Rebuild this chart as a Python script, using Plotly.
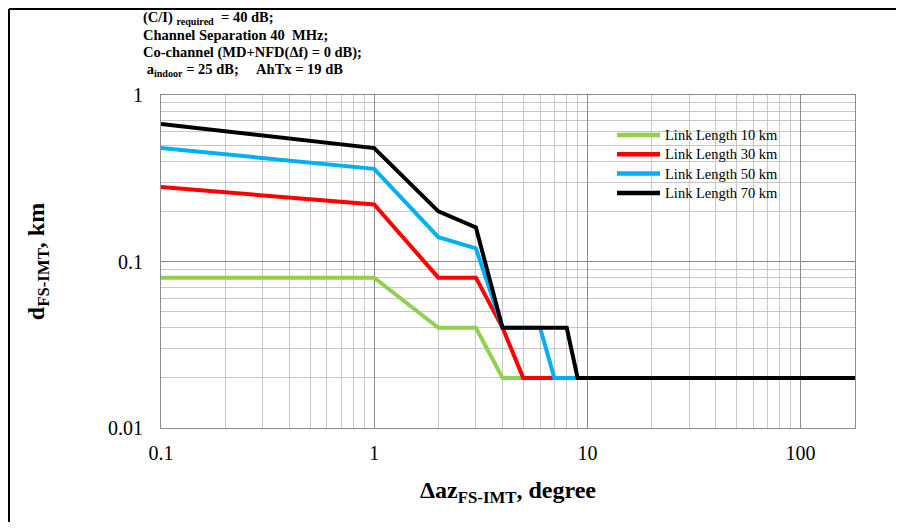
import plotly.graph_objects as go
import math

# Data
az = [0.1, 1, 2, 3, 4, 5, 6, 7, 8, 9, 180]
series_names = ["Link Length 10 km", "Link Length 30 km", "Link Length 50 km", "Link Length 70 km"]
d_10km = [0.08, 0.08, 0.04, 0.04, 0.02, 0.02, 0.02, 0.02, 0.02, 0.02, 0.02]
d_30km = [0.28, 0.22, 0.08, 0.08, 0.04, 0.02, 0.02, 0.02, 0.02, 0.02, 0.02]
d_50km = [0.48, 0.36, 0.14, 0.12, 0.04, 0.04, 0.04, 0.02, 0.02, 0.02, 0.02]
d_70km = [0.67, 0.48, 0.20, 0.16, 0.04, 0.04, 0.04, 0.04, 0.04, 0.02, 0.02]
colors = ["#92D050", "#FF0000", "#00B0F0", "#000000"]

x_tickvals = [0.1, 1, 10, 100]
x_ticktext = ["0.1", "1", "10", "100"]
y_tickvals = [0.01, 0.1, 1]
y_ticktext = ["0.01", "0.1", "1"]

note_lines = [
    "<b>(C/I) <sub>required</sub>  = 40 dB;</b>",
    "<b>Channel Separation 40  MHz;</b>",
    "<b>Co-channel (MD+NFD(Δf) = 0 dB);</b>",
    "<b>\u00a0a<sub>indoor</sub> = 25 dB;\u00a0\u00a0\u00a0\u00a0 AhTx = 19 dB</b>",
]

# figure size (page body has an 8px margin)
W, H = 888, 514
OFF = 8
L, R, T, B = 153, 41, 87, 94
pw, ph = W - L - R, H - T - B

def px(xs):
    """screen x -> paper x"""
    return (xs - OFF - L) / pw

def py(ys):
    """screen y -> paper y"""
    return (H - B - (ys - OFF)) / ph

FONT = "Liberation Serif, Times New Roman, serif"

fig = go.Figure()
series = [d_10km, d_30km, d_50km, d_70km]
for name, vals, c in zip(series_names, series, colors):
    fig.add_trace(go.Scatter(x=az, y=vals, mode="lines", name=name,
                             line=dict(color=c, width=4), showlegend=False))

fig.update_layout(
    width=W, height=H,
    margin=dict(l=L, r=R, t=T, b=B, pad=0),
    paper_bgcolor="white", plot_bgcolor="white",
    font=dict(family=FONT, color="black"),
    showlegend=False,
)

fig.update_xaxes(type="log", range=[-1, math.log10(180)],
                 tickvals=x_tickvals, ticktext=x_ticktext,
                 tickfont=dict(size=20, family=FONT),
                 showgrid=True, gridcolor="#8c8c8c", gridwidth=1,
                 minor=dict(dtick="D1", showgrid=True, gridcolor="#c6c6c6", gridwidth=1, ticks=""),
                 showline=True, linecolor="#8c8c8c", linewidth=1, mirror=True,
                 ticks="outside", ticklen=0, ticklabelstandoff=7,
                 zeroline=False,
                 title=dict(text="<b>Δaz<sub>FS-IMT</sub>, degree</b>",
                            font=dict(size=24, family=FONT), standoff=18))
fig.update_yaxes(type="log", range=[-2, 0],
                 tickvals=y_tickvals, ticktext=y_ticktext,
                 tickfont=dict(size=20, family=FONT),
                 showgrid=True, gridcolor="#8c8c8c", gridwidth=1,
                 minor=dict(dtick="D1", showgrid=True, gridcolor="#c6c6c6", gridwidth=1, ticks=""),
                 showline=True, linecolor="#8c8c8c", linewidth=1, mirror=True,
                 ticks="outside", ticklen=0, ticklabelstandoff=13,
                 zeroline=False,
                 title=dict(text="<b>d<sub>FS-IMT</sub>, km</b>",
                            font=dict(size=24, family=FONT), standoff=56))

# legend box (white, covering the grid)
fig.add_shape(type="rect", xref="paper", yref="paper",
              x0=px(547), x1=px(852), y0=py(205), y1=py(127),
              fillcolor="white", line=dict(width=0), layer="between")

# legend entries
leg_y = [135, 154.3, 173.6, 193]
for name, c, yy in zip(series_names, colors, leg_y):
    fig.add_shape(type="line", xref="paper", yref="paper",
                  x0=px(617), x1=px(660), y0=py(yy), y1=py(yy),
                  line=dict(color=c, width=4.5), layer="above")
    fig.add_annotation(text=name, xref="paper", yref="paper", x=px(663), y=py(yy),
                       xanchor="left", yanchor="middle", showarrow=False,
                       font=dict(family=FONT, size=14.5, color="black"))

# outer frame: only left and top edges are visible in the page
fig.add_shape(type="line", xref="paper", yref="paper",
              x0=px(OFF + 1), x1=px(OFF + 1), y0=py(OFF + H + 30), y1=py(OFF + 1),
              line=dict(color="black", width=2), layer="above")
fig.add_shape(type="line", xref="paper", yref="paper",
              x0=px(OFF + 1), x1=px(OFF + W + 30), y0=py(OFF + 1), y1=py(OFF + 1),
              line=dict(color="black", width=2), layer="above")

note_y = [18, 35.5, 53, 70.5]
for txt, yy in zip(note_lines, note_y):
    fig.add_annotation(text=txt, xref="paper", yref="paper", x=px(141), y=py(yy),
                       xanchor="left", yanchor="middle", showarrow=False, align="left",
                       font=dict(family=FONT, size=14.5, color="black"))

fig.write_html("out.html")
